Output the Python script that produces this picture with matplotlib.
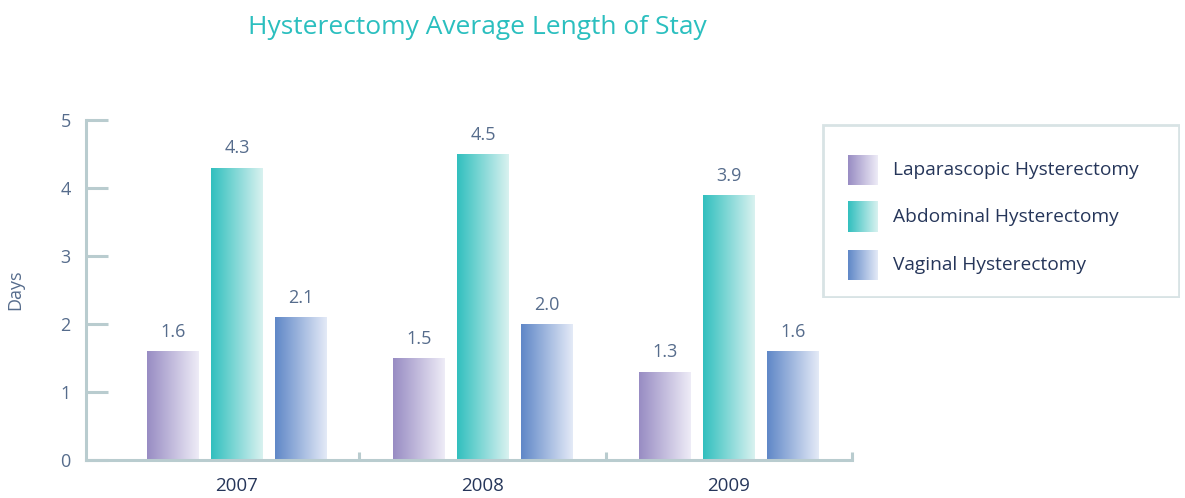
import matplotlib
matplotlib.use("Agg")
import matplotlib.pyplot as plt
import numpy as np
from matplotlib.colors import LinearSegmentedColormap
from matplotlib.patches import Rectangle

years = ["2007", "2008", "2009"]
series = ["Laparascopic Hysterectomy", "Abdominal Hysterectomy", "Vaginal Hysterectomy"]
laparoscopic = [1.6, 1.5, 1.3]
abdominal = [4.3, 4.5, 3.9]
vaginal = [2.1, 2.0, 1.6]
values = [laparoscopic, abdominal, vaginal]
grad_colors = [("#988cc3", "#eeecf7"), ("#31bfbe", "#d9f2f0"), ("#5f87c7", "#e4eaf7")]

plt.rcParams['font.family'] = ['Open Sans', 'DejaVu Sans']

W, H = 1185, 498
fig = plt.figure(figsize=(W / 100, H / 100), dpi=100)
ax = fig.add_axes([86 / W, 38 / H, (852 - 86) / W, 340 / H])

spine_c = "#b9cccf"
tick_c = "#566c8c"
navy = "#26365a"

x = np.arange(len(years))
bw = 0.211
off = 0.26
grad = np.linspace(0, 1, 256).reshape(1, -1)
for i, (vals, (c0, c1)) in enumerate(zip(values, grad_colors)):
    cmap = LinearSegmentedColormap.from_list(f"g{i}", [c0, c1])
    bars = ax.bar(x + (i - 1) * off, vals, width=bw, color="none", edgecolor="none")
    for b, v in zip(bars, vals):
        x0, w, h = b.get_x(), b.get_width(), b.get_height()
        im = ax.imshow(grad, cmap=cmap, aspect="auto", extent=(x0, x0 + w, 0, h),
                       interpolation="bicubic", zorder=2)
        im.set_clip_path(b)
        ax.text(x0 + w / 2, h + 0.15, f"{v:.1f}", ha="center", va="bottom",
                fontsize=13, color=tick_c)

ax.set_xlim(-0.614, 2.5)
ax.set_ylim(0, 5)
for s in ["top", "right"]:
    ax.spines[s].set_visible(False)
for s in ["left", "bottom"]:
    ax.spines[s].set_color(spine_c)
    ax.spines[s].set_linewidth(2.2)

ax.set_yticks(range(0, 6))
ax.tick_params(axis="y", direction="in", length=16, width=2.2, color=spine_c,
               labelcolor=tick_c, labelsize=13, pad=11)
ax.set_xticks([0.496, 1.5, 2.5])
ax.set_xticklabels([])
ax.tick_params(axis="x", direction="in", length=6, width=2.2, color=spine_c)
for xi, yl in zip(x, years):
    ax.text(xi, -0.25, yl, ha="center", va="top", fontsize=13.5, color=navy,
            transform=ax.transData)
ax.set_ylabel("Days", fontsize=13, color=tick_c)
ax.yaxis.set_label_coords(-0.08, 0.5)

fig.text(477 / W, 1 - 27 / H, "Hysterectomy Average Length of Stay", ha="center",
         va="center", fontsize=19, color="#2bbfbf")

# legend box
lax = fig.add_axes([822 / W, (H - 298) / H, 358 / W, 174 / H])
lax.axis("off")
lax.add_patch(Rectangle((1, 1), 356, 172, fill=False, edgecolor="#d8e3e5", linewidth=2))
rows = [46, 93, 141]
for i, ((c0, c1), name, ry) in enumerate(zip(grad_colors, series, rows)):
    cmap = LinearSegmentedColormap.from_list(f"l{i}", [c0, c1])
    lax.imshow(grad, cmap=cmap, aspect="auto", extent=(26, 56, ry + 15, ry - 15),
               interpolation="bicubic")
    lax.text(71, ry, name, ha="left", va="center", fontsize=13.8, color=navy)
lax.set_xlim(0, 358)
lax.set_ylim(174, 0)

fig.savefig("out.png", dpi=100)
